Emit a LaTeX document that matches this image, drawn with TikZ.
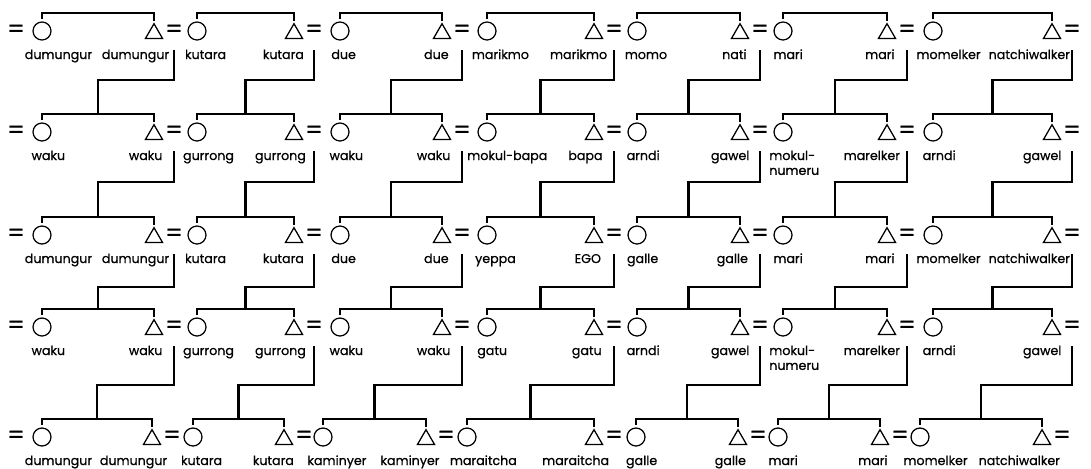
\documentclass[tikz,border=0pt]{standalone}
\usepackage{fontspec}
\setmainfont{Poppins}
\newfontfamily\kinface{Poppins}[FakeBold=0.7]
\usetikzlibrary{shapes.geometric}
\newcommand\kinfont{\kinface\fontsize{9}{10.6}\selectfont}
\newcommand\mokulnum{\begin{tabular}[t]{@{}l@{}}mokul-\\numeru\end{tabular}}
\newlength\kinw
% names stick out a fifth of their width past the symbol
\newcommand\cname[1]{\settowidth\kinw{#1}\hspace*{-0.2\kinw}#1}
\newcommand\tname[1]{\settowidth\kinw{#1}#1\hspace*{-0.2\kinw}}
\tikzset{
  fem/.style={circle, draw, line width=0.9pt, minimum size=0.45cm,
    inner sep=0pt, outer sep=0pt},
  male/.style={regular polygon, regular polygon sides=3, draw,
    line width=0.9pt, minimum size=0.49cm, inner sep=0pt, outer sep=0pt},
  kinname/.style={inner sep=0pt, font=\kinfont},
  wed/.style={inner sep=0pt, font=\kinface\LARGE},
  kin/.style={line width=1.5pt}
}
% one row of sibling pairs: row, y, circle x/triangle x/name/name
\newcommand\kinrow[3]{%
  \node[wed] (e-#1-0) at (16,#2) {=};
  \foreach \xc/\xt/\lc/\lt [count=\pn] in {#3} {
    \node[fem]  (c-#1-\pn) at (\xc,#2) {};
    \node[male] (t-#1-\pn) at (\xt,#2+2.5) {};
    \node[wed]  (e-#1-\pn) at (\xt+20,#2) {=};
    \node[kinname, anchor=base west] (nc-#1-\pn) at (\xc-4,#2+28) {\cname{\lc}};
    \node[kinname, anchor=base east] (nt-#1-\pn) at (\xt+2,#2+28) {\tname{\lt}};
    \coordinate (b-#1-\pn) at ({(\xc+\xt)/2},#2-18);
    \coordinate (m-#1-\pn) at (\xt+20,#2+19);
    \draw[kin] ([yshift=2pt]c-#1-\pn.north) |- (b-#1-\pn) -| ([yshift=2pt]t-#1-\pn.north);
  }%
}
\begin{document}
\begin{tikzpicture}[x=0.025cm, y=-0.025cm]
\fill[white] (0,0) rectangle (1091,468);
\useasboundingbox (0,0) rectangle (1091,468);

\kinrow{1}{31}{42/154/dumungur/dumungur, 197/294/kutara/kutara,
  340/442/due/due, 487/594/marikmo/marikmo, 637/740/momo/nati,
  783/887/mari/mari, 933/1052/momelker/natchiwalker}
\kinrow{2}{132}{42/154/waku/waku, 197/294/gurrong/gurrong,
  340/442/waku/waku, 487/594/mokul-bapa/bapa, 637/740/arndi/gawel,
  783/887/\mokulnum/marelker, 933/1052/arndi/gawel}
\kinrow{3}{235}{42/154/dumungur/dumungur, 197/294/kutara/kutara,
  340/442/due/due, 487/594/yeppa/EGO, 637/740/galle/galle,
  783/887/mari/mari, 933/1052/momelker/natchiwalker}
\kinrow{4}{327}{42/154/waku/waku, 197/294/gurrong/gurrong,
  340/442/waku/waku, 487/594/gatu/gatu, 637/740/arndi/gawel,
  783/887/\mokulnum/marelker, 933/1052/arndi/gawel}
\kinrow{5}{437}{42/152/dumungur/dumungur, 193/284/kutara/kutara,
  323/426/kaminyer/kaminyer, 467/594/maraitcha/maraitcha,
  636/738/galle/galle, 778/880/mari/mari, 920/1042/momelker/natchiwalker}

% descent lines from each marriage to the sibling pair below
\foreach \r/\rr/\d in {1/2/30, 2/3/31, 3/4/33, 4/5/39}
  \foreach \pn in {1,...,7}
    \draw[kin] (m-\r-\pn) -- ++(0,\d) -| (b-\rr-\pn);
\end{tikzpicture}
\end{document}
